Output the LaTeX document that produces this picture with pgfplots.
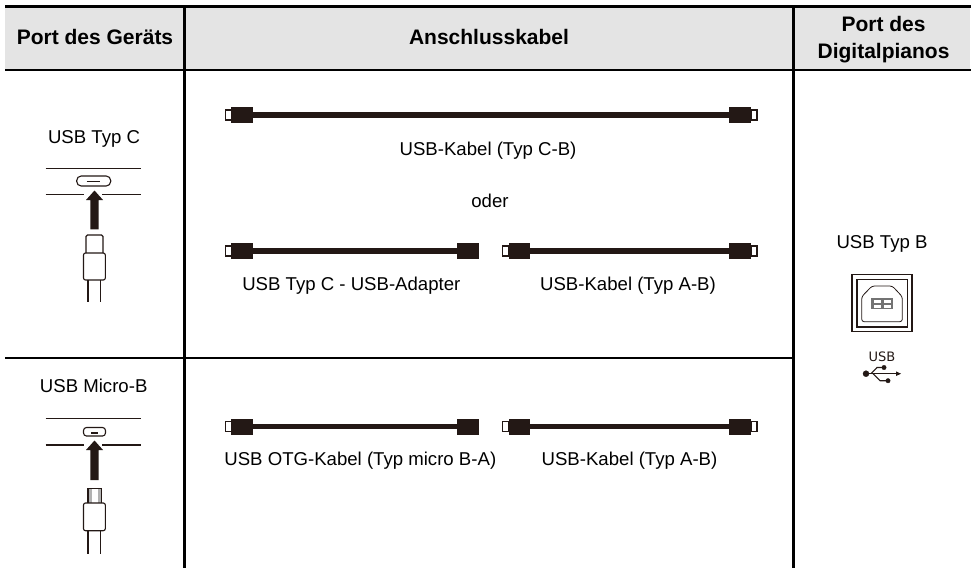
\documentclass[border=0pt]{standalone}
\usepackage{pgfplots}
\pgfplotsset{compat=1.18}
\usepackage{fontspec}
\setmainfont{Liberation Sans}
\newfontfamily\usbfont{DejaVu Sans}
\definecolor{ink}{HTML}{231815}
\definecolor{head}{HTML}{E4E4E4}
\newcommand\txt{\fontsize{18.6}{22}\selectfont}
\newcommand\hd{\fontsize{21}{26}\selectfont\bfseries}
\newcommand\filled[1]{\addplot[draw=none,fill=ink,forget plot] coordinates {#1} --cycle;}
\newcommand\inkline[2][1.1pt]{\addplot[draw=ink,line width=#1,forget plot] coordinates {#2};}
\newcommand\blockat[4]{\addplot[draw=none,fill=ink,forget plot] coordinates {(#1,#3)(#2,#3)(#2,#4)(#1,#4)} --cycle;}
\newcommand\cableseg[3]{\addplot[draw=ink,line width=5.6pt,forget plot] coordinates {(#1,#3)(#2,#3)};}
\newcommand\tipbox[4]{\addplot[draw=ink,line width=1.4pt,forget plot] coordinates {(#1,#3)(#2,#3)(#2,#4)(#1,#4)} --cycle;}
\begin{document}
\begin{tikzpicture}
\begin{axis}[x=1pt,y=1pt,y dir=reverse,xmin=0,xmax=976,ymin=0,ymax=568,hide axis,scale only axis,no markers]
\addplot[draw=none,fill=white,forget plot] coordinates {(0,0)(976,0)(976,568)(0,568)} --cycle;
\addplot[draw=none,fill=head,forget plot] coordinates {(5,6)(970,6)(970,70)(5,70)} --cycle;
\addplot[draw=black,line width=2.6pt,forget plot] coordinates {(5,6.3)(970.5,6.3)};
\addplot[draw=black,line width=2.2pt,forget plot] coordinates {(5,70)(970.5,70)};
\addplot[draw=black,line width=2.2pt,forget plot] coordinates {(5,358)(793.5,358)};
\addplot[draw=black,line width=2.2pt,forget plot] coordinates {(184.5,6)(184.5,568)};
\addplot[draw=black,line width=2.2pt,forget plot] coordinates {(793.5,6)(793.5,568)};
\node[font=\hd,anchor=base] at (axis cs:95,44) {Port des Geräts};
\node[font=\hd,anchor=base] at (axis cs:489,44) {Anschlusskabel};
\node[font=\hd,anchor=base] at (axis cs:883.5,31.7) {Port des};
\node[font=\hd,anchor=base] at (axis cs:883.5,58.3) {Digitalpianos};
\node[font=\txt,anchor=base] at (axis cs:94,143.3) {USB Typ C};
\node[font=\txt,anchor=base] at (axis cs:93.7,392.7) {USB Micro-B};
\node[font=\txt,anchor=base] at (axis cs:488,155) {USB-Kabel (Typ C-B)};
\node[font=\txt,anchor=base] at (axis cs:490,207.3) {oder};
\node[font=\txt,anchor=base] at (axis cs:351.3,290) {USB Typ C - USB-Adapter};
\node[font=\txt,anchor=base] at (axis cs:628,290) {USB-Kabel (Typ A-B)};
\node[font=\txt,anchor=base] at (axis cs:360.3,465) {USB OTG-Kabel (Typ micro B-A)};
\node[font=\txt,anchor=base] at (axis cs:629.5,465) {USB-Kabel (Typ A-B)};
\node[font=\txt,anchor=base] at (axis cs:882,248) {USB Typ B};
% row 1
\tipbox{225.5}{231.5}{110}{120}
\blockat{231.3}{252.7}{107}{123}
\cableseg{252}{730}{115}
\blockat{729.3}{751.3}{107}{123}
\tipbox{751}{757}{110}{120}
% row 2
\tipbox{225.5}{231.5}{246}{256}
\blockat{231.3}{252.7}{243}{259}
\cableseg{252}{458}{251}
\blockat{457.3}{478.5}{243}{259}
\tipbox{502.7}{509}{246}{256}
\blockat{509}{530.3}{243}{259}
\cableseg{530}{730}{251}
\blockat{729.3}{751.3}{243}{259}
\tipbox{751}{757}{246}{256}
% row 3
\tipbox{225.5}{231.5}{421.5}{431.5}
\blockat{231.3}{252.7}{418.5}{434.5}
\cableseg{252}{458}{426.5}
\blockat{457.3}{478.5}{418.5}{434.5}
\tipbox{502.7}{509}{421.5}{431.5}
\blockat{509}{530.3}{418.5}{434.5}
\cableseg{530}{730}{426.5}
\blockat{729.3}{751.3}{418.5}{434.5}
\tipbox{751}{757}{421.5}{431.5}
% USB-C port
\inkline{(45.7,168.3)(141.3,168.3)}
\inkline{(45.7,194.7)(84,194.7)}
\inkline{(102,194.7)(141.3,194.7)}
\addplot[draw=ink,line width=1.1pt,rounded corners=4.5pt,forget plot] coordinates {(76.7,176)(110.7,176)(110.7,186)(76.7,186)} --cycle;
\inkline{(86.7,181.2)(100,181.2)}
\filled{(94.5,190.5)(103,200)(98.7,200)(98.7,229.3)(90.3,229.3)(90.3,200)(86,200)}
\addplot[draw=ink,line width=1.1pt,rounded corners=1.5pt,forget plot] coordinates {(86,253)(86,235)(103,235)(103,253)};
\addplot[draw=ink,line width=1.1pt,rounded corners=2pt,forget plot] coordinates {(83.5,253)(105.3,253)(105.3,280)(83.5,280)} --cycle;
\inkline{(88,280)(88,302)}
\inkline{(100.7,280)(100.7,302)}
% Micro-B port
\inkline{(45.7,418.3)(141.3,418.3)}
\inkline{(45.7,445)(84,445)}
\inkline{(102,445)(141.3,445)}
\addplot[draw=ink,line width=1.1pt,rounded corners=3pt,forget plot] coordinates {(83.5,427.5)(105.5,427.5)(105.5,436)(83.5,436)} --cycle;
\inkline{(91,433)(98,433)}
\filled{(94.5,440.5)(103,450)(98.7,450)(98.7,480)(90.3,480)(90.3,450)(86,450)}
\addplot[draw=none,fill=gray!60,forget plot] coordinates {(88,488.5)(101.5,488.5)(101.5,503)(88,503)} --cycle;
\addplot[draw=none,fill=white,forget plot] coordinates {(91.5,489)(98,489)(98,503)(91.5,503)} --cycle;
\addplot[draw=ink,line width=1.1pt,forget plot] coordinates {(88,503)(88,488.5)(101.5,488.5)(101.5,503)};
\addplot[draw=ink,line width=1.1pt,rounded corners=2pt,forget plot] coordinates {(83.5,503)(105.3,503)(105.3,530.7)(83.5,530.7)} --cycle;
\inkline{(88,530.7)(88,553.5)}
\inkline{(100.7,530.7)(100.7,553.5)}
% USB-B port
\addplot[draw=ink,line width=1.6pt,forget plot] coordinates {(852,274.5)(912,274.5)(912,331.5)(852,331.5)} --cycle;
\addplot[draw=ink,line width=1.2pt,forget plot] coordinates {(857,279.5)(907.5,279.5)(907.5,327)(857,327)} --cycle;
\addplot[draw=ink,line width=0.8pt,rounded corners=2.5pt,forget plot] coordinates {(861.7,321.7)(861.7,296.7)(872,286)(892.3,286)(902.3,296.7)(902.3,321.7)} --cycle;
\addplot[draw=none,fill=black!55,forget plot] coordinates {(871.3,298.3)(892.7,298.3)(892.7,309.3)(871.3,309.3)} --cycle;
\addplot[draw=none,fill=white,forget plot] coordinates {(874,300.4)(880.5,300.4)(880.5,303)(874,303)} --cycle;
\addplot[draw=none,fill=white,forget plot] coordinates {(884,300.4)(890.5,300.4)(890.5,303)(884,303)} --cycle;
\addplot[draw=none,fill=white,forget plot] coordinates {(874,305)(880.5,305)(880.5,307.6)(874,307.6)} --cycle;
\addplot[draw=none,fill=white,forget plot] coordinates {(884,305)(890.5,305)(890.5,307.6)(884,307.6)} --cycle;
% USB symbol
\node[font=\usbfont\fontsize{13}{15}\selectfont,text=ink,anchor=base] at (axis cs:882,361.7) {USB};
\addplot[only marks,mark=*,mark size=3pt,mark options={draw=ink,fill=ink},forget plot] coordinates {(866,373.7)};
\addplot[only marks,mark=*,mark size=2.2pt,mark options={draw=ink,fill=ink},forget plot] coordinates {(884,367.5)};
\addplot[only marks,mark=square*,mark size=2.2pt,mark options={draw=ink,fill=ink},forget plot] coordinates {(888,380.7)};
\inkline[1.1pt]{(866,373.7)(897,373.7)}
\inkline[1.1pt]{(871,373.7)(877,367.5)(884,367.5)}
\inkline[1.1pt]{(873,373.7)(880,380.7)(888,380.7)}
\filled{(901,373.7)(896,371.4)(896,376)}
\end{axis}
\end{tikzpicture}
\end{document}
